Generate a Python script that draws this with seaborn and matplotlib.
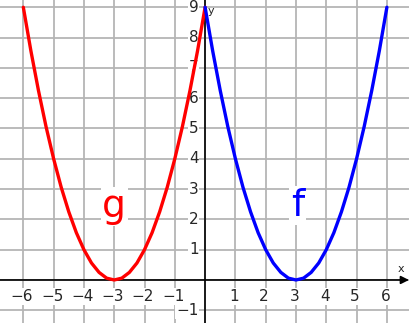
import numpy as np
import pandas as pd
import seaborn as sns
import matplotlib
matplotlib.use("Agg")
import matplotlib.pyplot as plt

# values (step 0.25)
g_x = [-6, -5.75, -5.5, -5.25, -5, -4.75, -4.5, -4.25, -4, -3.75, -3.5, -3.25, -3,
       -2.75, -2.5, -2.25, -2, -1.75, -1.5, -1.25, -1, -0.75, -0.5, -0.25, 0]
g_y = [9, 7.56, 6.25, 5.06, 4, 3.06, 2.25, 1.56, 1, 0.56, 0.25, 0.06, 0,
       0.06, 0.25, 0.56, 1, 1.56, 2.25, 3.06, 4, 5.06, 6.25, 7.56, 9]
f_x = [0, 0.25, 0.5, 0.75, 1, 1.25, 1.5, 1.75, 2, 2.25, 2.5, 2.75, 3,
       3.25, 3.5, 3.75, 4, 4.25, 4.5, 4.75, 5, 5.25, 5.5, 5.75, 6]
f_y = [9, 7.56, 6.25, 5.06, 4, 3.06, 2.25, 1.56, 1, 0.56, 0.25, 0.06, 0,
       0.06, 0.25, 0.56, 1, 1.56, 2.25, 3.06, 4, 5.06, 6.25, 7.56, 9]
x_ticks = [-6, -5, -4, -3, -2, -1, 1, 2, 3, 4, 5, 6]
y_ticks = [-1, 1, 2, 3, 4, 5, 6, 7, 8, 9]

sns.set_style("white")
plt.rcParams['font.family'] = ['DejaVu Sans']

fig = plt.figure(figsize=(4.09, 3.23), dpi=100)
ax = fig.add_axes([0, 0, 1, 1])
ax.set_xlim(-6.77, 6.73)
ax.set_ylim(-1.42, 9.24)

# grid
for gx in range(-6, 7):
    ax.axvline(gx, color="#b5b5b5", lw=1.3, zorder=0)
for gy in range(-1, 10):
    ax.axhline(gy, color="#b5b5b5", lw=1.3, zorder=0)

# axes
ax.axvline(0, color="black", lw=1.2, zorder=1)
ax.annotate("", xy=(6.73, 0), xytext=(-6.77, 0),
            arrowprops=dict(arrowstyle="-|>", color="black", lw=1.2,
                            mutation_scale=12, shrinkA=0, shrinkB=0), zorder=1)

box = dict(facecolor="white", edgecolor="none", pad=0.5)
for t in x_ticks:
    ax.text(t - 0.05, -0.55, f"\u2212{abs(t)}" if t < 0 else str(t),
            ha="center", va="center", fontsize=11, bbox=box, zorder=2)
for t in y_ticks:
    ax.text(-0.22, t, f"\u2212{abs(t)}" if t < 0 else str(t),
            ha="right", va="center", fontsize=11, bbox=box, zorder=2)
ax.text(6.45, 0.2, "x", fontsize=8, ha="center", va="bottom", zorder=2)
ax.text(0.2, 8.7, "y", fontsize=8, ha="center", va="bottom", zorder=2)

sns.lineplot(x=g_x, y=g_y, color="#ff0000", lw=2.4, ax=ax)
sns.lineplot(x=f_x, y=f_y, color="#0000ff", lw=2.4, ax=ax)
for ln in ax.lines[-2:]:
    ln.set_zorder(5)

ax.text(-3.0, 2.08, "g", color="#ff0000", fontsize=27, ha="center",
        va="baseline", bbox=dict(facecolor="white", edgecolor="none", pad=1), zorder=2)
ax.text(3.05, 2.12, "f", color="#0000ff", fontsize=27, ha="center",
        va="baseline", bbox=dict(facecolor="white", edgecolor="none", pad=1), zorder=2)

ax.axis("off")
fig.savefig("out.png", dpi=100)
